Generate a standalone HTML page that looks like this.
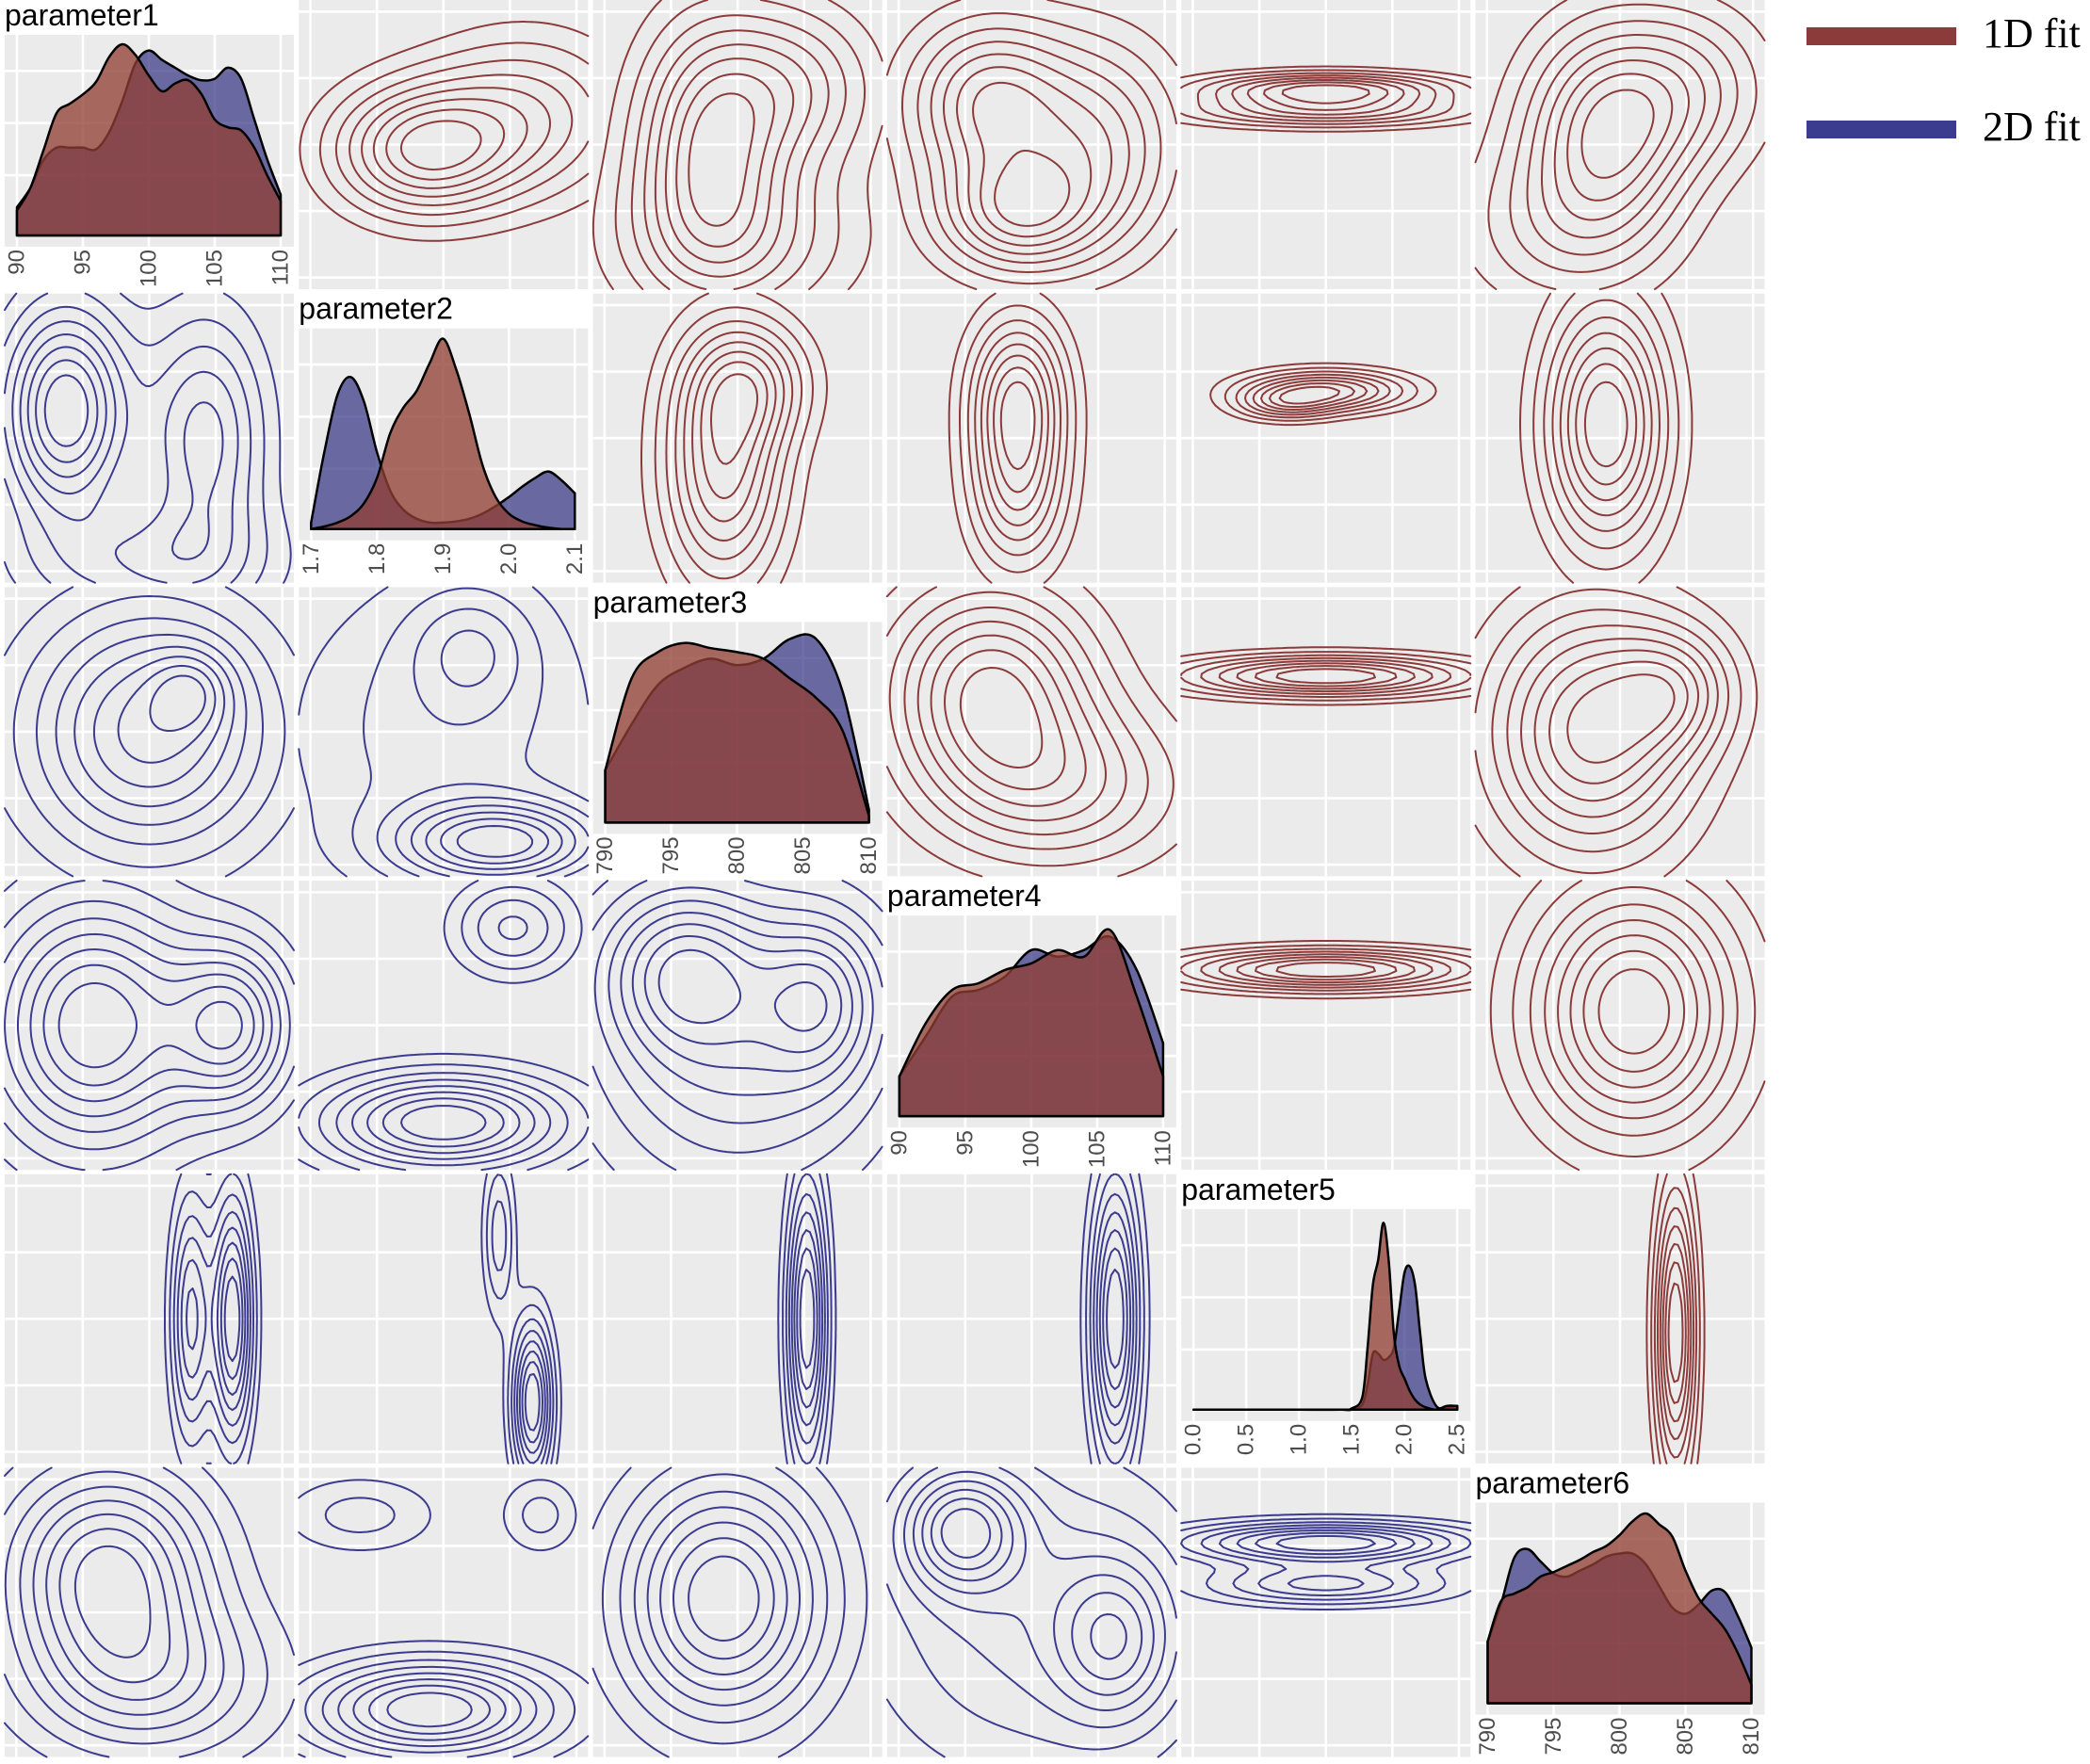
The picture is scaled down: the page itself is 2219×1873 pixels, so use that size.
<!DOCTYPE html>
<html><head><meta charset="utf-8"><style>
html,body{margin:0;padding:0;background:#fff;}
svg{display:block;font-family:"Liberation Sans",sans-serif;}
</style></head><body>
<svg id="chart" width="2219" height="1873" viewBox="0 0 2219 1873" xmlns="http://www.w3.org/2000/svg">
<g id="panels"></g>
<g id="legend">
  <rect x="1918" y="29" width="159" height="19" fill="#8c3b3b"/>
  <text x="2105" y="50" font-family="'Liberation Serif',serif" font-size="44">1D fit</text>
  <rect x="1918" y="128" width="159" height="19" fill="#3b3b8f"/>
  <text x="2105" y="149" font-family="'Liberation Serif',serif" font-size="44">2D fit</text>
</g>
</svg>
<script>
// ---------- data ----------
const paramNames = ["parameter1","parameter2","parameter3","parameter4","parameter5","parameter6"];
const p1x = [90,91,92,93,94,95,96,97,98,99,100,101,102,103,104,105,106,107,108,109,110];
const p1red = [80,150,270,390,420,450,490,570,610,575,510,460,485,495,450,370,345,335,280,190,110];
const p1blue = [90,150,240,280,280,280,275,330,430,550,590,560,535,510,495,500,535,500,370,240,130];
const p2x = [1.70,1.72,1.74,1.76,1.78,1.80,1.82,1.84,1.86,1.88,1.90,1.92,1.94,1.96,1.98,2.00,2.02,2.04,2.06,2.08,2.10];
const p2blue = [5,60,105,119,100,60,30,15,8,5,5,6,8,12,18,25,33,40,45,38,28];
const p2red = [0,2,5,10,20,40,75,95,108,130,149,125,90,50,25,12,6,3,1,0,0];
const p3x = [790,792,794,796,798,800,802,804,806,808,810];
const p3red = [40,110,130,137,133,130,125,110,95,70,5];
const p3blue = [40,75,105,118,125,120,125,140,140,100,10];
const p4x = [90,92,94,96,98,100,102,104,106,108,110];
const p4red = [30,70,95,100,110,115,125,120,140,90,30];
const p4blue = [30,60,90,95,105,125,120,125,135,110,55];
const p5x = [0,0.5,1.0,1.4,1.5,1.6,1.65,1.7,1.75,1.8,1.85,1.9,1.95,2.0,2.05,2.1,2.15,2.2,2.3,2.4,2.5];
const p5red = [0,0,0,0,1,10,50,100,120,150,120,60,35,25,15,8,4,2,0,3,3];
const p5blue = [0,0,0,0,0,4,20,45,45,40,42,50,80,110,115,100,60,25,3,2,3];
const p6x = [790,791,792,793,794,795,796,797,798,799,800,801,802,803,804,805,806,807,808,809,810];
const p6red = [200,330,355,375,410,425,445,465,490,510,545,590,615,580,540,430,340,290,240,160,60];
const p6blue = [200,320,470,500,460,420,410,430,450,475,485,485,450,380,310,290,320,365,360,280,180];
const densX = [p1x,p2x,p3x,p4x,p5x,p6x];
const densRed = [p1red,p2red,p3red,p4red,p5red,p6red];
const densBlue = [p1blue,p2blue,p3blue,p4blue,p5blue,p6blue];
const densMax = [640,157,153,151,161,650];
const ticks = [[90,95,100,105,110],[1.7,1.8,1.9,2.0,2.1],[790,795,800,805,810],[90,95,100,105,110],[0,0.5,1,1.5,2,2.5],[790,795,800,805,810]];
const tickLabels = [["90","95","100","105","110"],["1.7","1.8","1.9","2.0","2.1"],["790","795","800","805","810"],["90","95","100","105","110"],["0.0","0.5","1.0","1.5","2.0","2.5"],["790","795","800","805","810"]];
const rangeMin = [90,1.7,790,90,0,790];
const rangeMax = [110,2.1,810,110,2.5,810];
// 2D kernel components per panel "r,c": [u, v, su, sv, weight] in unit coordinates
const peaks = {
 "0,1":[[0.42,0.52,0.22,0.16,1],[0.8,0.4,0.25,0.2,0.6]],
 "0,2":[[0.4,0.5,0.18,0.3,1],[0.7,0.3,0.2,0.2,0.6],[0.5,0.85,0.3,0.2,0.5]],
 "0,3":[[0.35,0.35,0.2,0.2,0.8],[0.45,0.75,0.2,0.15,0.8],[0.75,0.5,0.2,0.25,0.6]],
 "0,4":[[0.5,0.3,0.3,0.04,1],[0.5,0.38,0.35,0.04,0.7]],
 "0,5":[[0.45,0.45,0.2,0.25,1],[0.75,0.3,0.2,0.2,0.5],[0.3,0.8,0.25,0.2,0.4]],
 "1,0":[[0.2,0.4,0.15,0.25,1],[0.7,0.5,0.15,0.3,0.6],[0.5,0.95,0.3,0.15,0.4]],
 "1,2":[[0.45,0.6,0.15,0.3,1],[0.55,0.3,0.15,0.15,0.6]],
 "1,3":[[0.45,0.35,0.12,0.2,1],[0.45,0.7,0.12,0.2,0.7]],
 "1,4":[[0.5,0.33,0.2,0.05,1],[0.35,0.38,0.12,0.04,0.5]],
 "1,5":[[0.45,0.45,0.15,0.3,1]],
 "2,0":[[0.5,0.5,0.3,0.3,1],[0.65,0.35,0.1,0.1,0.4]],
 "2,1":[[0.7,0.9,0.25,0.1,1.5],[0.6,0.2,0.15,0.15,0.5],[0.5,0.5,0.4,0.4,0.5]],
 "2,3":[[0.35,0.35,0.25,0.25,1],[0.6,0.7,0.3,0.2,0.6]],
 "2,4":[[0.5,0.3,0.35,0.05,1]],
 "2,5":[[0.4,0.5,0.25,0.3,1],[0.7,0.35,0.15,0.15,0.5]],
 "3,0":[[0.3,0.5,0.25,0.3,1],[0.8,0.5,0.15,0.2,0.8]],
 "3,1":[[0.5,0.85,0.3,0.12,1.5],[0.75,0.15,0.15,0.12,0.7]],
 "3,2":[[0.3,0.3,0.2,0.2,0.7],[0.8,0.4,0.15,0.2,0.6],[0.5,0.6,0.35,0.35,0.6]],
 "3,4":[[0.5,0.3,0.35,0.05,1]],
 "3,5":[[0.55,0.45,0.25,0.3,1]],
 "4,0":[[0.8,0.5,0.05,0.3,1],[0.65,0.5,0.05,0.3,0.7]],
 "4,1":[[0.82,0.8,0.05,0.2,1],[0.7,0.2,0.04,0.2,0.4]],
 "4,2":[[0.75,0.5,0.05,0.35,1]],
 "4,3":[[0.8,0.5,0.06,0.35,1]],
 "4,5":[[0.7,0.55,0.05,0.35,1]],
 "5,0":[[0.35,0.35,0.25,0.25,1],[0.5,0.75,0.3,0.2,0.6]],
 "5,1":[[0.45,0.85,0.3,0.12,1.5],[0.85,0.15,0.1,0.1,0.4],[0.2,0.15,0.2,0.1,0.4]],
 "5,2":[[0.45,0.45,0.25,0.3,1]],
 "5,3":[[0.25,0.2,0.15,0.15,1],[0.8,0.6,0.15,0.2,0.7],[0.5,0.5,0.4,0.4,0.5]],
 "5,4":[[0.5,0.25,0.35,0.05,1],[0.5,0.4,0.3,0.05,0.6]]
};
// ---------- drawing ----------
const NS="http://www.w3.org/2000/svg";
const root=document.getElementById('panels');
function mk(tag,attrs,parent){const e=document.createElementNS(NS,tag);for(const k in attrs)e.setAttribute(k,attrs[k]);(parent||root).appendChild(e);return e;}
const PX=c=>5+c*312.3, PY=r=>r*311.7, PW=307, PH=307;
const RED="#8c3b3b", BLUE="#3b3b8f";
function smoothPath(pts){
  let d="M"+pts[0][0]+","+pts[0][1];
  for(let i=0;i<pts.length-1;i++){
    const p0=pts[Math.max(0,i-1)],p1=pts[i],p2=pts[i+1],p3=pts[Math.min(pts.length-1,i+2)];
    const c1=[p1[0]+(p2[0]-p0[0])/6,p1[1]+(p2[1]-p0[1])/6];
    const c2=[p2[0]-(p3[0]-p1[0])/6,p2[1]-(p3[1]-p1[1])/6];
    d+=" C"+c1[0].toFixed(1)+","+c1[1].toFixed(1)+" "+c2[0].toFixed(1)+","+c2[1].toFixed(1)+" "+p2[0].toFixed(1)+","+p2[1].toFixed(1);
  }
  return d;
}
function gridLines(g,x0,y0,w,h){
  const fr=[0.04,0.27,0.5,0.73,0.96];
  for(let i=0;i<fr.length;i++){
    const l1=mk('line',{x1:x0+fr[i]*w,x2:x0+fr[i]*w,y1:y0,y2:y0+h,stroke:"#fff","stroke-width":2.6},g);
    
    
    const l2=mk('line',{x1:x0,x2:x0+w,y1:y0+fr[i]*h,y2:y0+fr[i]*h,stroke:"#fff","stroke-width":2.6},g);
    
    
  }
}
for(let r=0;r<6;r++){for(let c=0;c<6;c++){
  const g=mk('g',{});
  const x0=PX(c),y0=PY(r);
  if(r===c){
    
    
    const title=mk('text',{x:x0,y:y0+27,"font-size":32,fill:"#000"},g);
    title.textContent=paramNames[r];
    
    
    const gy=y0+37,gh=225;
    const bg=mk('rect',{x:x0,y:gy,width:PW,height:gh,fill:"#ebebeb"},g);
    
    
    const xa=x0+13, xb=x0+PW-14, base=y0+250, top=gy;
    const sx=v=>xa+(v-rangeMin[r])/(rangeMax[r]-rangeMin[r])*(xb-xa);
    const sy=v=>Math.min(base,base-v/densMax[r]*(base-top));
    [0.18,0.44,0.7].forEach(f=>{const l=mk('line',{x1:x0,x2:x0+PW,y1:top+f*(base-top),y2:top+f*(base-top),stroke:"#fff","stroke-width":2.6},g);
      
      });
    ticks[r].forEach((t,i)=>{
      const l=mk('line',{x1:sx(t),x2:sx(t),y1:gy,y2:gy+gh,stroke:"#fff","stroke-width":2.6},g);
      
      
      const tx=mk('text',{x:0,y:0,"font-size":24,fill:"#4d4d4d","text-anchor":"end","dominant-baseline":"central",transform:`translate(${sx(t)},${y0+265}) rotate(-90)`},g);
      tx.textContent=tickLabels[r][i];
      
      
    });
    function area(vals,fill,op,name){
      const pts=densX[r].map((x,i)=>[sx(x),sy(vals[i])]);
      let d=smoothPath(pts);
      const dd=d+` L${sx(densX[r][densX[r].length-1])},${base} L${sx(densX[r][0])},${base} Z`;
      const p=mk('path',{d:dd,fill:fill,"fill-opacity":op,stroke:"#000","stroke-width":2.5,"stroke-linejoin":"round"},g);
      
      
    }
    area(densBlue[r],"rgb(50,48,130)",0.7,'density-2d-fit');
    area(densRed[r],"rgb(144,63,52)",0.77,'density-1d-fit');
  } else {
    
    
    const bg=mk('rect',{x:x0,y:y0,width:PW,height:PH,fill:"#ebebeb"},g);
    
    
    gridLines(g,x0,y0,PW,PH);
    const pk=peaks[r+","+c]; const N=80;
    const f=(u,v)=>{let s=0;for(const p of pk){const a=(u-p[0])/p[2],b=(v-p[1])/p[3];s+=p[4]*Math.exp(-0.5*(a*a+b*b));}return s;};
    const G=[];let mx=0;
    for(let j=0;j<=N;j++){G.push([]);for(let i=0;i<=N;i++){const val=f((i/N)*1.04-0.02,(j/N)*1.04-0.02);G[j].push(val);if(val>mx)mx=val;}}
    const cw=PW/N,ch=PH/N;
    let d="";
    const levels=[0.12,0.22,0.33,0.44,0.55,0.66,0.77,0.88];
    for(const lf of levels){const L=lf*mx;
      for(let j=0;j<N;j++)for(let i=0;i<N;i++){
        const a=G[j][i],b=G[j][i+1],cc=G[j+1][i+1],dv=G[j+1][i];
        const e=[];
        const it=(p,q)=>(L-p)/(q-p);
        if((a<L)!==(b<L))e.push([i+it(a,b),j]);
        if((b<L)!==(cc<L))e.push([i+1,j+it(b,cc)]);
        if((dv<L)!==(cc<L))e.push([i+it(dv,cc),j+1]);
        if((a<L)!==(dv<L))e.push([i,j+it(a,dv)]);
        for(let k=0;k+1<e.length;k+=2){
          d+=`M${(x0+e[k][0]*cw).toFixed(1)},${(y0+e[k][1]*ch).toFixed(1)}L${(x0+e[k+1][0]*cw).toFixed(1)},${(y0+e[k+1][1]*ch).toFixed(1)}`;
        }
      }
    }
    const p=mk('path',{d:d,fill:"none",stroke:r<c?RED:BLUE,"stroke-width":2,"stroke-linecap":"round"},g);
    
    
  }
}}
</script>
</body></html>
